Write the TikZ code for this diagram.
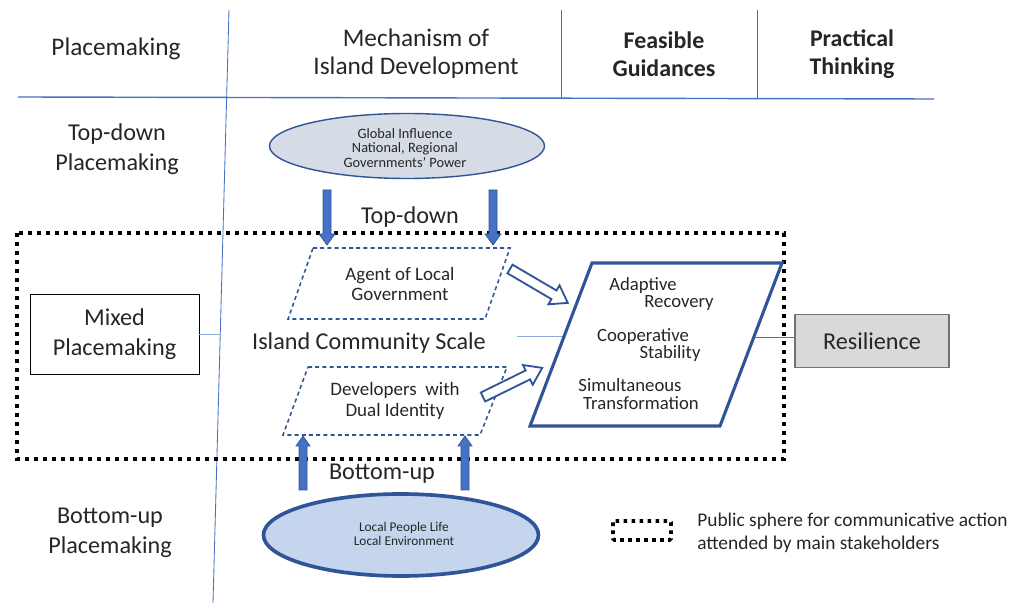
\documentclass[tikz,border=0pt]{standalone}
\usepackage{fontspec}
\setmainfont{Carlito}
\usetikzlibrary{shapes.geometric}
\definecolor{dblue}{HTML}{2F5597}
\definecolor{mblue}{HTML}{4472C4}
\definecolor{lblue}{HTML}{8FAADC}
\definecolor{txt}{HTML}{262626}
\definecolor{greyblue}{HTML}{D6DCE5}
\definecolor{paleblue}{HTML}{C5D5EE}
\definecolor{boxgrey}{HTML}{D9D9D9}
\tikzset{
  big/.style={font=\fontsize{17.2}{21.3}\selectfont, text=txt, align=center, inner sep=0pt},
  hdr/.style={font=\fontsize{18}{20}\selectfont, text=txt, align=center, inner sep=0pt},
  mid/.style={font=\fontsize{13.5}{14.5}\selectfont, text=txt, align=center, inner sep=0pt},
  res/.style={font=\fontsize{13.3}{13.5}\selectfont, text=txt, align=center, inner sep=0pt},
  small/.style={font=\fontsize{10.2}{10.5}\selectfont, text=txt, align=center, inner sep=0pt},
  tiny/.style={font=\fontsize{9.5}{10}\selectfont, text=txt, align=center, inner sep=0pt},
  gridline/.style={draw=mblue, line width=0.6pt},
  thinline/.style={draw=lblue, line width=0.7pt},
  dotbox/.style={draw=black, line width=1mm, dash pattern=on 1mm off 1.25mm},
  dashpar/.style={draw=dblue, line width=1.1pt, dash pattern=on 1mm off 0.8mm},
  solidarrow/.style={fill=mblue, draw=dblue, line width=0.5pt},
  hollowarrow/.style={fill=white, draw=dblue, line width=1.3pt, line join=miter},
}
\begin{document}
\begin{tikzpicture}[x=0.25mm,y=-0.25mm]
\useasboundingbox (0,0) rectangle (1022,603);

% grid lines
\coordinate (vtop) at (229,10);
\coordinate (vbot) at (213,603);
\draw[gridline] (vtop) -- (vbot);
\coordinate (h1) at (18,97);
\coordinate (h2) at (934,99);
\draw[draw=mblue, line width=1pt] (h1) -- (h2);
\coordinate (v2t) at (561,10);
\coordinate (v2b) at (561,99);
\draw[gridline] (v2t) -- (v2b);
\coordinate (v3t) at (757,10);
\coordinate (v3b) at (757,99);
\draw[gridline] (v3t) -- (v3b);

% header
\node[hdr] (hplace) at (116,49) {Placemaking};
\node[hdr] (hmech) at (416,54) {Mechanism of\\Island Development};
\node[hdr, font=\bfseries\fontsize{17}{20}\selectfont] (hfeas) at (664,54) {Feasible\\Guidances};
\node[hdr, font=\bfseries\fontsize{17}{20}\selectfont] (hprac) at (852,54) {Practical\\Thinking};

% left column
\node[big] (tdp) at (117,149) {Top-down\\Placemaking};
\node[big] (bup) at (110,533) {Bottom-up\\Placemaking};

% public sphere
\draw[dotbox] (17,233) rectangle (784,459);

% mixed placemaking
\node[big, draw=black, line width=0.6pt, minimum width=169*0.25mm, minimum height=80*0.25mm] (mixed) at (114.5,334) {Mixed\\Placemaking};
\coordinate (vmix) at (220.5,334);
\draw[thinline] (mixed.east) -- (vmix);

% top ellipse
\node[ellipse, draw=dblue, fill=greyblue, line width=1pt, minimum width=275*0.25mm, minimum height=65*0.25mm, inner sep=0pt] (glob) at (407,146) {};
\node[small] (globt) at (405,148) {Global Influence\\National, Regional\\Governments’ Power};

% down arrows
\draw[solidarrow] (323,190) -- (331,190) -- (331,234) -- (335,234) -- (327,245) -- (319,234) -- (323,234) -- cycle;
\draw[solidarrow] (489,190) -- (497,190) -- (497,234) -- (501,234) -- (493,245) -- (485,234) -- (489,234) -- cycle;
\node[big] (tdlabel) at (410,217) {Top-down};

% agent parallelogram
\draw[dashpar] (313,248) -- (510,248) -- (485,319) -- (288,319) -- cycle;
\node[mid] (agent) at (400,284) {Agent of Local\\Government};

% developers parallelogram
\draw[dashpar] (308,367) -- (507,367) -- (480,435) -- (283,435) -- cycle;
\node[mid] (dev) at (395,401) {Developers~ with\\Dual Identity};

% island scale
\node[big] (island) at (369,343) {Island Community Scale};
\coordinate (isl1) at (517,336);
\coordinate (isl2) at (563,336);
\draw[thinline] (isl1) -- (isl2);

% big parallelogram
\draw[draw=dblue, line width=2.2pt, line join=miter] (592,263) -- (782,263) -- (720,426) -- (530,426) -- cycle;
\node[res] (r1) at (643,286) {Adaptive};
\node[res] (r2) at (679,303) {Recovery};
\node[res] (r3) at (643,337) {Cooperative};
\node[res] (r4) at (670,354) {Stability};
\node[res] (r5) at (630,385) {Simultaneous};
\node[res] (r6) at (641,403) {Transformation};

% hollow arrows
\coordinate (ha1) at (510,269);
\coordinate (ha2) at (483,397);
\begin{scope}[shift={(ha1)}, rotate=-30.4]
\draw[hollowarrow] (0,-5) -- (51,-5) -- (51,-11) -- (67,0) -- (51,11) -- (51,5) -- (0,5) -- cycle;
\end{scope}
\begin{scope}[shift={(ha2)}, rotate=26.2]
\draw[hollowarrow] (0,-5) -- (50,-5) -- (50,-11) -- (66,0) -- (50,11) -- (50,5) -- (0,5) -- cycle;
\end{scope}

% resilience
\node[big, draw=black!55, fill=boxgrey, line width=0.8pt, minimum width=154*0.25mm, minimum height=53*0.25mm] (resil) at (872,341) {Resilience};
\coordinate (pr) at (754,337);
\draw[thinline, draw=mblue] (pr) -- (resil.west |- pr);

% up arrows
\draw[solidarrow] (299,490) -- (307,490) -- (307,446) -- (310,446) -- (303,436) -- (296,446) -- (299,446) -- cycle;
\draw[solidarrow] (461,490) -- (469,490) -- (469,446) -- (472,446) -- (465,436) -- (458,446) -- (461,446) -- cycle;
\node[big] (bulabel) at (382,474) {Bottom-up};

% bottom ellipse
\node[ellipse, draw=dblue, fill=paleblue, line width=2.6pt, minimum width=275*0.25mm, minimum height=82*0.25mm, inner sep=0pt] (local) at (401,535) {};
\node[tiny] (localt) at (404,534) {Local People Life\\Local Environment};

% legend
\draw[dotbox, line width=0.9mm, dash pattern=on 0.9mm off 1.1mm, rounded corners=1pt] (613,521) rectangle (671,540);
\node[anchor=west, align=left, font=\fontsize{13.8}{16.3}\selectfont, text=txt, inner sep=0pt] (legend) at (697,533) {Public sphere for communicative action\\attended by main stakeholders};
\end{tikzpicture}
\end{document}
